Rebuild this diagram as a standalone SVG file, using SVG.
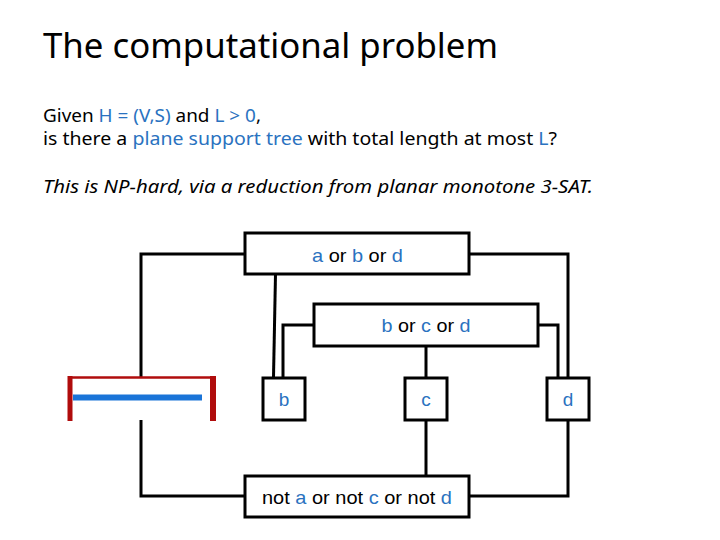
<svg xmlns="http://www.w3.org/2000/svg" width="720" height="540" viewBox="0 0 720 540">
<style>
.title{font-family:"Noto Sans","Open Sans",sans-serif;font-size:35px;fill:#000}
.body{font-family:"Noto Sans","Open Sans",sans-serif;font-size:17.5px;fill:#000}
.it{font-style:italic}
.hl{fill:#2a72c0}
.box{fill:#fff;stroke:#000;stroke-width:3}
.lbl{font-family:"Liberation Sans",Arial,sans-serif;font-size:19px;fill:#000;text-anchor:middle}
.v{fill:#2a72c0}
.wire{fill:none;stroke:#000;stroke-width:3}
</style>
<rect width="720" height="540" fill="#fff"/>
<text class="title" x="43" y="58" textLength="455" lengthAdjust="spacingAndGlyphs">The computational problem</text>
<text class="body" x="43" y="122" textLength="218" lengthAdjust="spacingAndGlyphs">Given <tspan class="hl">H = (V,S)</tspan> and <tspan class="hl">L &gt; 0</tspan>,</text>
<text class="body" x="43" y="145" textLength="514" lengthAdjust="spacingAndGlyphs">is there a <tspan class="hl">plane support tree</tspan> with total length at most <tspan class="hl">L</tspan>?</text>
<text class="body it" x="43" y="193" textLength="550" lengthAdjust="spacingAndGlyphs">This is NP-hard, via a reduction from planar monotone 3-SAT.</text>

<g id="connectors">
<polyline class="wire" points="245,254 141,254 141,377"/>
<polyline class="wire" points="275.5,274 273.5,377"/>
<polyline class="wire" points="314,325 283,325 283,377"/>
<polyline class="wire" points="426,346 426,377"/>
<polyline class="wire" points="538,325 558,325 558,377"/>
<polyline class="wire" points="469,254 568,254 568,377"/>
<polyline class="wire" points="568,420 568,496 469,496"/>
<polyline class="wire" points="426,420 426,476"/>
<polyline class="wire" points="245,496 141,496 141,420"/>
</g>

<g id="var-a">
<line x1="70" y1="377.5" x2="213" y2="377.5" stroke="#b00c0c" stroke-width="2.5"/>
<rect x="67.5" y="376" width="5" height="45" fill="#b00c0c"/>
<rect x="210" y="376" width="6" height="45" fill="#b00c0c"/>
<line x1="73" y1="397.5" x2="202" y2="397.5" stroke="#1a74d8" stroke-width="6"/>
</g>

<g id="clause-abd">
<rect class="box" x="245" y="233" width="224" height="41"/>
<text class="lbl" x="357.5" y="262" textLength="91" lengthAdjust="spacingAndGlyphs"><tspan class="v">a</tspan> or <tspan class="v">b</tspan> or <tspan class="v">d</tspan></text>
</g>
<g id="clause-bcd">
<rect class="box" x="314" y="304" width="224" height="42"/>
<text class="lbl" x="426" y="332" textLength="89" lengthAdjust="spacingAndGlyphs"><tspan class="v">b</tspan> or <tspan class="v">c</tspan> or <tspan class="v">d</tspan></text>
</g>
<g id="var-b">
<rect class="box" x="263" y="378" width="42" height="42"/>
<text class="lbl v" x="284" y="406">b</text>
</g>
<g id="var-c">
<rect class="box" x="405" y="378" width="42" height="42"/>
<text class="lbl v" x="426" y="406">c</text>
</g>
<g id="var-d">
<rect class="box" x="547" y="378" width="42" height="42"/>
<text class="lbl v" x="568" y="406">d</text>
</g>
<g id="clause-not-acd">
<rect class="box" x="245" y="476" width="224" height="41"/>
<text class="lbl" x="357" y="504" textLength="190" lengthAdjust="spacingAndGlyphs">not <tspan class="v">a</tspan> or not <tspan class="v">c</tspan> or not <tspan class="v">d</tspan></text>
</g>
</svg>
